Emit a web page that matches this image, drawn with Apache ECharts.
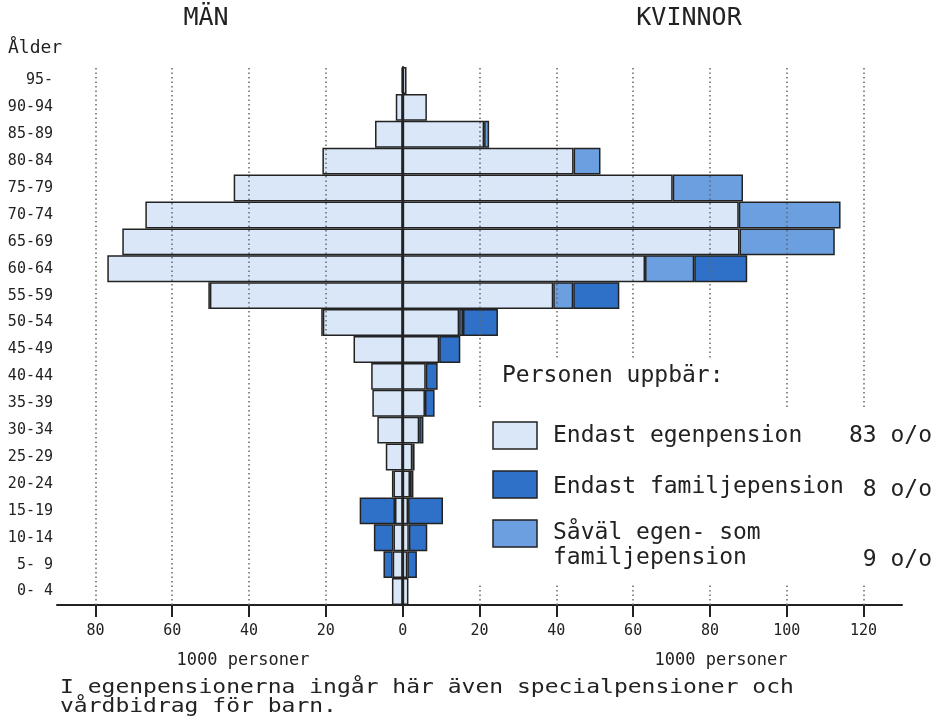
<!DOCTYPE html>
<html>
<head>
<meta charset="utf-8">
<script src="https://cdn.jsdelivr.net/npm/echarts@6/dist/echarts.min.js"></script>
<style>
html,body{margin:0;padding:0;background:#fff;}
#chart{width:943px;height:722px;}
</style>
</head>
<body>
<div id="chart"></div>
<script>
// Age groups, youngest first (bottom of the pyramid)
const ages = ['0- 4','5- 9','10-14','15-19','20-24','25-29','30-34','35-39','40-44','45-49',
              '50-54','55-59','60-64','65-69','70-74','75-79','80-84','85-89','90-94','95-'];

// Thousands of persons
const menEgen     = [2.8, 2.6, 2.4, 2.0, 2.4, 4.4, 6.6, 7.9, 8.2, 12.8, 20.8, 50.2, 76.9, 73.0, 67.0, 44.0, 20.9, 7.2, 1.8, 0.3];
const menFamilj   = [0,   2.4, 5.1, 9.2, 0.4, 0,   0,   0,   0,   0,    0.4,  0.4,  0,    0,    0,    0,    0,    0,   0,   0];
const womenEgen   = [1.5, 1.2, 1.6, 1.4, 1.9, 2.5, 4.3, 5.8, 6.0, 9.5, 14.7, 39.2, 63.1, 87.7, 87.5, 70.3, 44.5, 21.2, 6.3, 1.0];
const womenBada   = [0,   0,   0,   0,   0,   0,   0,   0,   0,   0,    1.0,  5.2, 12.8, 24.8, 26.5, 18.3,  7.0,  1.3, 0,   0];
const womenFamilj = [0,   2.5, 4.8, 9.1, 0.9, 0.6, 1.1, 2.5, 3.1, 5.5,  9.1, 12.0, 13.8, 0,    0,    0,    0,    0,   0,   0];

const xTicks = [-80,-60,-40,-20,0,20,40,60,80,100,120];
const gridValues = [-80,-60,-40,-20,20,40,60,80,100,120];

const legendNames = ['Endast egenpension','Endast familjepension','Såväl egen- som familjepension'];
const legendShares = ['83 o/o','8 o/o','9 o/o'];

const C_LIGHT = '#d9e7f8';
const C_DARK = '#2f70c9';
const C_MED = '#6c9fe0';
const BORDER = '#222';
const FONT = 'DejaVu Sans Mono';

const toData = (arr, sign) => arr.map(v => v === 0 ? null : sign * v);

function barSeries(name, data, color, extra) {
  return Object.assign({
    name: name,
    type: 'bar',
    stack: 'pyr',
    data: data,
    barWidth: '100%',
    barCategoryGap: 0,
    itemStyle: {color: color, borderColor: BORDER, borderWidth: 1.5},
    emphasis: {disabled: true},
    z: 2
  }, extra || {});
}

const chart = echarts.init(document.getElementById('chart'), null, {renderer: 'canvas'});

function txt(x, y, text, size, align, extra) {
  return Object.assign({type: 'text', z: 101, x: x, y: y,
    style: {text: text, font: size + 'px "DejaVu Sans Mono"', fill: BORDER, align: align || 'left', verticalAlign: 'middle'}}, extra || {});
}

const option = {
  animation: false,
  backgroundColor: '#fff',
  grid: {left: 57, right: 41, top: 67, bottom: 117},
  xAxis: {
    type: 'value',
    min: -90,
    max: 130,
    axisLine: {show: true, onZero: false, lineStyle: {color: BORDER, width: 2}},
    axisTick: {show: true, customValues: xTicks, length: 12, lineStyle: {color: BORDER, width: 2}},
    axisLabel: {customValues: xTicks, formatter: v => String(Math.abs(v)), margin: 19,
                fontFamily: FONT, fontSize: 15, color: BORDER},
    splitLine: {show: false}
  },
  yAxis: {
    type: 'category',
    data: ages,
    axisLine: {show: true, lineStyle: {color: BORDER, width: 2}},
    axisTick: {show: false},
    axisLabel: {fontFamily: FONT, fontSize: 15, color: BORDER, margin: 4}
  },
  series: [
    barSeries('Män egen', toData(menEgen, -1), C_LIGHT, {
      markLine: {
        silent: true,
        symbol: ['none','none'],
        label: {show: false},
        lineStyle: {type: [1.5, 3], color: '#666', width: 1.5},
        data: gridValues.map(v => ({xAxis: v})),
        z: 5
      }
    }),
    barSeries('Män familj', toData(menFamilj, -1), C_DARK),
    barSeries('Kvinnor egen', toData(womenEgen, 1), C_LIGHT),
    barSeries('Kvinnor båda', toData(womenBada, 1), C_MED),
    barSeries('Kvinnor familj', toData(womenFamilj, 1), C_DARK)
  ],
  graphic: [
    // masks hiding grid lines behind the legend block
    {type: 'rect', z: 100, shape: {x: 470, y: 410, width: 436, height: 173}, style: {fill: '#fff'}},
    {type: 'rect', z: 100, shape: {x: 495, y: 360, width: 240, height: 50}, style: {fill: '#fff'}},
    // titles
    txt(206, 18, 'MÄN', 25, 'center'),
    txt(689, 18, 'KVINNOR', 25, 'center'),
    txt(8, 48, 'Ålder', 18, 'left'),
    // axis unit labels
    txt(243, 661, '1000 personer', 17, 'center'),
    txt(721, 661, '1000 personer', 17, 'center'),
    // footnote
    txt(60, 688, 'I egenpensionerna ingår här även specialpensioner och', 23, 'left', {scaleY: 0.82}),
    txt(60, 707, 'vårdbidrag för barn.', 23, 'left', {scaleY: 0.82}),
    // legend
    txt(502, 376, 'Personen uppbär:', 23, 'left'),
    {type: 'rect', z: 101, shape: {x: 493, y: 422, width: 44, height: 27}, style: {fill: C_LIGHT, stroke: BORDER, lineWidth: 1.5}},
    {type: 'rect', z: 101, shape: {x: 493, y: 471, width: 44, height: 27}, style: {fill: C_DARK, stroke: BORDER, lineWidth: 1.5}},
    {type: 'rect', z: 101, shape: {x: 493, y: 520, width: 44, height: 27}, style: {fill: C_MED, stroke: BORDER, lineWidth: 1.5}},
    txt(553, 436, legendNames[0], 23, 'left'),
    txt(553, 487, legendNames[1], 23, 'left'),
    txt(553, 533, 'Såväl egen- som', 23, 'left'),
    txt(553, 558, 'familjepension', 23, 'left'),
    txt(932, 436, legendShares[0], 23, 'right'),
    txt(932, 490, legendShares[1], 23, 'right'),
    txt(932, 560, legendShares[2], 23, 'right')
  ]
};

chart.setOption(option);
</script>
</body>
</html>
